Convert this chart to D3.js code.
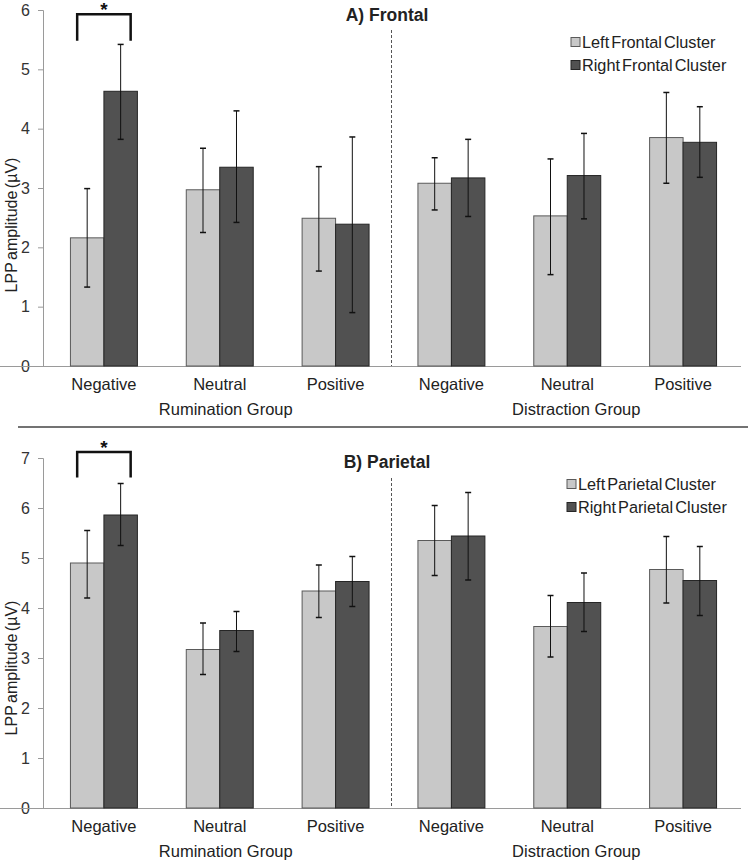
<!DOCTYPE html>
<html>
<head>
<meta charset="utf-8">
<script src="https://cdn.jsdelivr.net/npm/d3@7"></script>
<style>
  body { margin: 0; background: #fff; }
  svg { display: block; font-family: "Liberation Sans", Arial, sans-serif; }
</style>
</head>
<body>
<div id="chart-area"></div>
<script>
const WIDTH = 748;
const HEIGHT = 863;
const LIGHT_COLOR = '#c8c8c8';
const DARK_COLOR = '#515151';

const categories = ["R-Neg", "R-Neu", "R-Pos", "D-Neg", "D-Neu", "D-Pos"];
const tickLabels = ["Negative", "Neutral", "Positive", "Negative", "Neutral", "Positive"];
const groupLabels = ["Rumination Group", "Distraction Group"];

// A) Frontal
const frontalLeft = [2.16, 2.97, 2.49, 3.08, 2.53, 3.85];
const frontalLeftLow = [1.33, 2.25, 1.60, 2.63, 1.54, 3.08];
const frontalLeftHigh = [2.99, 3.67, 3.36, 3.51, 3.49, 4.61];
const frontalRight = [4.63, 3.35, 2.39, 3.17, 3.21, 3.77];
const frontalRightLow = [3.82, 2.42, 0.90, 2.52, 2.48, 3.18];
const frontalRightHigh = [5.42, 4.30, 3.86, 3.82, 3.92, 4.37];

// B) Parietal
const parietalLeft = [4.90, 3.17, 4.34, 5.35, 3.63, 4.77];
const parietalLeftLow = [4.20, 2.67, 3.81, 4.65, 3.02, 4.10];
const parietalLeftHigh = [5.55, 3.70, 4.86, 6.05, 4.25, 5.43];
const parietalRight = [5.86, 3.55, 4.53, 5.44, 4.11, 4.55];
const parietalRightLow = [5.25, 3.13, 4.03, 4.56, 3.53, 3.85];
const parietalRightHigh = [6.49, 3.93, 5.03, 6.31, 4.70, 5.23];

const svg = d3.select("#chart-area").append("svg")
    .attr("width", WIDTH)
    .attr("height", HEIGHT);

function drawPanel(opt) {
    const g = svg.append("g");

    const x = d3.scaleBand()
        .domain(categories)
        .range([46, 741])
        .padding(0);
    const x1 = d3.scaleBand()
        .domain(["L", "R"])
        .range([0, x.bandwidth()])
        .paddingInner(0)
        .paddingOuter(0.73);
    const y = d3.scaleLinear()
        .domain([0, opt.yMax])
        .range([opt.y0, opt.yTop]);

    // y axis
    const yAxis = g.append("g")
        .attr("transform", "translate(43,0)")
        .call(d3.axisLeft(y).ticks(opt.yMax).tickSize(5).tickPadding(8));
    yAxis.select(".domain").attr("stroke", "#9a9a9a");
    yAxis.selectAll(".tick line").attr("stroke", "#9a9a9a");
    yAxis.selectAll(".tick text").attr("font-size", 16).attr("fill", "#333");

    // x axis
    const xAxis = g.append("g")
        .attr("transform", "translate(0," + opt.y0 + ")")
        .call(d3.axisBottom(x).tickSize(0).tickPadding(12).tickFormat((d, i) => tickLabels[i]));
    xAxis.select(".domain").attr("d", "M-3,0.5H741").attr("stroke", "#9a9a9a");
    xAxis.selectAll(".tick text").attr("font-size", 16.5).attr("fill", "#222");

    // group labels
    g.selectAll(".grp")
        .data(groupLabels)
        .enter()
        .append("text")
        .attr("x", (d, i) => i === 0 ? x(categories[1]) + x.bandwidth() / 2 + 6 : x(categories[4]) + x.bandwidth() / 2 + 9)
        .attr("y", opt.y0 + 49)
        .attr("text-anchor", "middle")
        .attr("font-size", 16.5)
        .attr("fill", "#222")
        .text(d => d);

    // divider
    g.append("line")
        .attr("x1", 391.5).attr("x2", 391.5)
        .attr("y1", opt.dividerTop).attr("y2", opt.y0)
        .attr("stroke", "#555")
        .attr("stroke-dasharray", "3,2");

    const rows = [];
    categories.forEach((c, i) => {
        rows.push({ cat: c, side: "L", v: opt.left[i], lo: opt.leftLow[i], hi: opt.leftHigh[i] });
        rows.push({ cat: c, side: "R", v: opt.right[i], lo: opt.rightLow[i], hi: opt.rightHigh[i] });
    });

    g.selectAll("rect.bar")
        .data(rows)
        .enter()
        .append("rect")
        .attr("class", "bar")
        .attr("x", d => x(d.cat) + x1(d.side))
        .attr("width", x1.bandwidth())
        .attr("y", d => y(d.v))
        .attr("height", d => y(0) - y(d.v))
        .attr("fill", d => d.side === "L" ? LIGHT_COLOR : DARK_COLOR)
        .attr("stroke", d => d.side === "L" ? "#5a5a5a" : "#262626")
        .attr("stroke-width", 1);

    const cx = d => x(d.cat) + x1(d.side) + x1.bandwidth() / 2;
    const err = g.selectAll("g.err")
        .data(rows)
        .enter()
        .append("g")
        .attr("stroke", "#111")
        .attr("stroke-width", 1);
    err.append("line")
        .attr("x1", cx).attr("x2", cx)
        .attr("y1", d => y(d.lo)).attr("y2", d => y(d.hi));
    err.append("line")
        .attr("x1", d => cx(d) - 3).attr("x2", d => cx(d) + 3)
        .attr("y1", d => y(d.lo)).attr("y2", d => y(d.lo))
        .attr("stroke-width", 1.5);
    err.append("line")
        .attr("x1", d => cx(d) - 3).attr("x2", d => cx(d) + 3)
        .attr("y1", d => y(d.hi)).attr("y2", d => y(d.hi))
        .attr("stroke-width", 1.5);

    // significance bracket
    const bl = x(categories[0]) + x1("L") + x1.bandwidth() / 2 - 10;
    const br = x(categories[0]) + x1("R") + x1.bandwidth() / 2 + 10;
    g.append("path")
        .attr("d", `M${bl},${y(opt.bracketLow)}V${y(opt.bracketHigh)}H${br}V${y(opt.bracketLow)}`)
        .attr("fill", "none")
        .attr("stroke", "#111")
        .attr("stroke-width", 2.5);
    g.append("text")
        .attr("x", (bl + br) / 2)
        .attr("y", y(opt.bracketHigh) + 2)
        .attr("text-anchor", "middle")
        .attr("font-size", 19)
        .attr("font-weight", "bold")
        .attr("fill", "#111")
        .text("*");

    // title
    g.append("text")
        .attr("x", 387)
        .attr("y", opt.titleY)
        .attr("text-anchor", "middle")
        .attr("font-size", 17.5)
        .attr("font-weight", "bold")
        .attr("fill", "#222")
        .text(opt.title);

    // legend
    const legend = g.selectAll("g.leg")
        .data(opt.legend)
        .enter()
        .append("g")
        .attr("transform", (d, i) => "translate(" + opt.legendX + "," + (opt.legendY + i * 23) + ")");
    legend.append("rect")
        .attr("x", 0).attr("y", -4.5)
        .attr("width", 9).attr("height", 9)
        .attr("fill", (d, i) => i === 0 ? LIGHT_COLOR : DARK_COLOR)
        .attr("stroke", (d, i) => i === 0 ? "#5a5a5a" : "#262626");
    legend.append("text")
        .attr("x", 11)
        .attr("dy", "0.35em")
        .attr("font-size", 16.3)
        .attr("word-spacing", -2.5)
        .attr("fill", "#222")
        .text(d => d);

    // y label
    g.append("text")
        .attr("transform", "translate(17," + opt.labelY + ") rotate(-90)")
        .attr("text-anchor", "middle")
        .attr("font-size", 16)
        .attr("word-spacing", -2)
        .attr("fill", "#222")
        .text("LPP amplitude (\u00b5V)");
}

drawPanel({
    yMax: 6, y0: 366, yTop: 10,
    left: frontalLeft, leftLow: frontalLeftLow, leftHigh: frontalLeftHigh,
    right: frontalRight, rightLow: frontalRightLow, rightHigh: frontalRightHigh,
    bracketLow: 5.48, bracketHigh: 5.93,
    title: "A) Frontal", titleY: 21,
    legend: ["Left Frontal Cluster", "Right Frontal Cluster"], legendX: 571, legendY: 42,
    dividerTop: 30, labelY: 225
});

drawPanel({
    yMax: 7, y0: 808, yTop: 458,
    left: parietalLeft, leftLow: parietalLeftLow, leftHigh: parietalLeftHigh,
    right: parietalRight, rightLow: parietalRightLow, rightHigh: parietalRightHigh,
    bracketLow: 6.61, bracketHigh: 7.12,
    title: "B) Parietal", titleY: 468,
    legend: ["Left Parietal Cluster", "Right Parietal Cluster"], legendX: 567, legendY: 484,
    dividerTop: 478, labelY: 668
});

// panel separator
svg.append("line")
    .attr("x1", 18).attr("x2", WIDTH)
    .attr("y1", 427).attr("y2", 427)
    .attr("stroke", "#444")
    .attr("stroke-width", 1.5);
</script>
</body>
</html>
